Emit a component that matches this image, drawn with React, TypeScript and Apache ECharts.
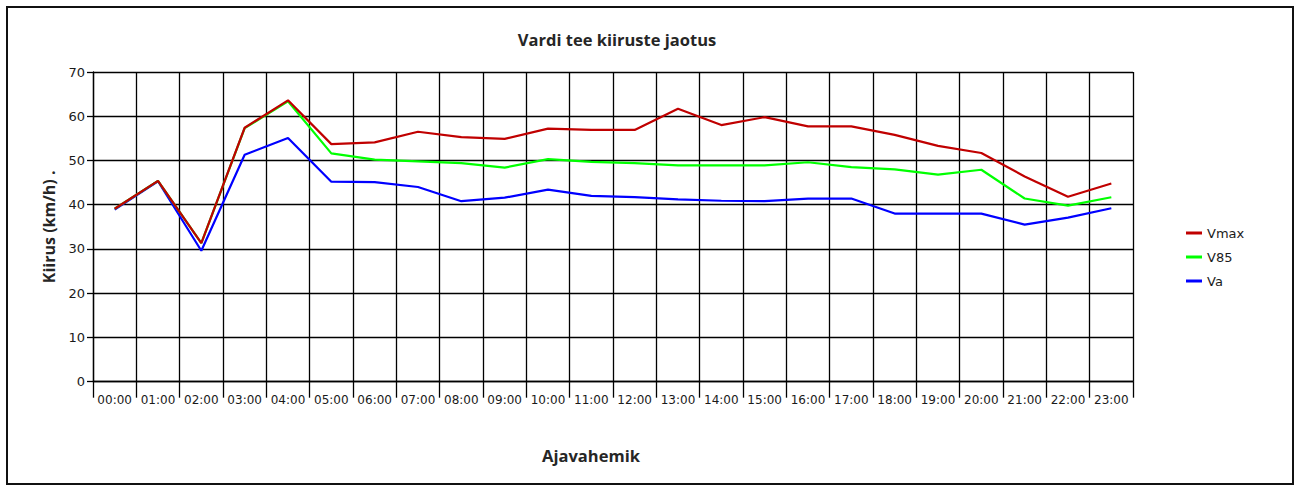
import React, { useEffect, useRef } from "react";
import * as echarts from "echarts";

const hours = [
  "00:00", "01:00", "02:00", "03:00", "04:00", "05:00", "06:00", "07:00",
  "08:00", "09:00", "10:00", "11:00", "12:00", "13:00", "14:00", "15:00",
  "16:00", "17:00", "18:00", "19:00", "20:00", "21:00", "22:00", "23:00",
];

const vmax = [
  39.1, 45.4, 31.3, 57.4, 63.6, 53.7, 54.1, 56.5, 55.3, 54.9, 57.2, 56.9,
  56.9, 61.7, 58.0, 59.8, 57.7, 57.7, 55.8, 53.3, 51.7, 46.4, 41.8, 44.8,
];

const v85 = [
  39.1, 45.4, 31.3, 57.3, 63.4, 51.6, 50.2, 49.8, 49.4, 48.4, 50.3, 49.7,
  49.4, 48.9, 48.9, 48.9, 49.6, 48.5, 48.0, 46.8, 47.9, 41.4, 39.8, 41.7,
];

const va = [
  38.9, 45.3, 29.6, 51.3, 55.1, 45.2, 45.1, 44.0, 40.8, 41.6, 43.4, 42.0,
  41.7, 41.2, 40.9, 40.8, 41.4, 41.4, 38.0, 38.0, 38.0, 35.5, 37.1, 39.2,
];

const yTicks = { min: 0, max: 70, interval: 10 };

const seriesNames = ["Vmax", "V85", "Va"];
const seriesColors = ["#C00000", "#00FF00", "#0000FF"];

export default function App() {
  const ref = useRef<HTMLDivElement>(null);

  useEffect(() => {
    document.body.style.margin = "0";
    const chart = echarts.init(ref.current!, null, { renderer: "svg" });
    const titleFont = "'Open Sans', Lato, sans-serif";
    const labelFont = "'DejaVu Sans', Verdana, sans-serif";
    const dataSets = [vmax, v85, va];
    chart.setOption({
      animation: false,
      backgroundColor: "#ffffff",
      title: {
        text: "Vardi tee kiiruste jaotus",
        left: 612,
        top: 26,
        textAlign: "center",
        textStyle: {
          fontFamily: titleFont,
          fontWeight: "bold",
          fontSize: 16.5,
          color: "#262626",
        },
      },
      legend: {
        data: seriesNames,
        orient: "vertical",
        left: 1181,
        top: 221,
        itemWidth: 16,
        itemHeight: 3,
        itemGap: 10,
        icon: "rect",
        textStyle: {
          fontFamily: labelFont,
          fontSize: 13,
          lineHeight: 14,
          color: "#1a1a1a",
        },
      },
      grid: {
        left: 93,
        top: 72,
        right: 162,
        bottom: 104.3,
        containLabel: false,
      },
      xAxis: {
        type: "category",
        data: hours,
        boundaryGap: true,
        name: "Ajavahemik",
        nameLocation: "middle",
        nameGap: 65,
        nameTextStyle: {
          fontFamily: titleFont,
          fontWeight: "bold",
          fontSize: 16.5,
          color: "#262626",
          padding: [0, 44, 0, 0],
        },
        axisLine: { show: true, lineStyle: { color: "#000", width: 1.3 } },
        axisTick: {
          show: true,
          length: 16,
          alignWithLabel: false,
          lineStyle: { color: "#000", width: 1.3 },
        },
        axisLabel: {
          interval: 0,
          margin: 12,
          fontFamily: labelFont,
          fontSize: 12,
          color: "#1a1a1a",
        },
        splitLine: {
          show: true,
          lineStyle: { color: "#000", width: 1.3 },
        },
      },
      yAxis: {
        type: "value",
        min: yTicks.min,
        max: yTicks.max,
        interval: yTicks.interval,
        name: "Kiirus (km/h) .",
        nameLocation: "middle",
        nameGap: 36,
        nameRotate: 90,
        nameTextStyle: {
          fontFamily: titleFont,
          fontWeight: "bold",
          fontSize: 16,
          color: "#262626",
        },
        axisLine: { show: true, lineStyle: { color: "#000", width: 1.3 } },
        axisTick: {
          show: true,
          length: 6,
          lineStyle: { color: "#000", width: 1.3 },
        },
        axisLabel: {
          margin: 8,
          fontFamily: labelFont,
          fontSize: 13,
          color: "#1a1a1a",
        },
        splitLine: {
          show: true,
          lineStyle: { color: "#000", width: 1.3 },
        },
      },
      series: seriesNames.map((name, i) => ({
        name,
        type: "line",
        data: dataSets[i],
        symbol: "none",
        z: 10 - i,
        color: seriesColors[i],
        lineStyle: { color: seriesColors[i], width: 2.2 },
      })),
      graphic: [
        {
          type: "rect",
          shape: { x: 7, y: 7, width: 1286, height: 477 },
          style: { fill: "none", stroke: "#111", lineWidth: 2 },
          silent: true,
          z: 100,
        },
      ],
    });
    return () => chart.dispose();
  }, []);

  return <div ref={ref} style={{ width: 1295, height: 486 }} />;
}
